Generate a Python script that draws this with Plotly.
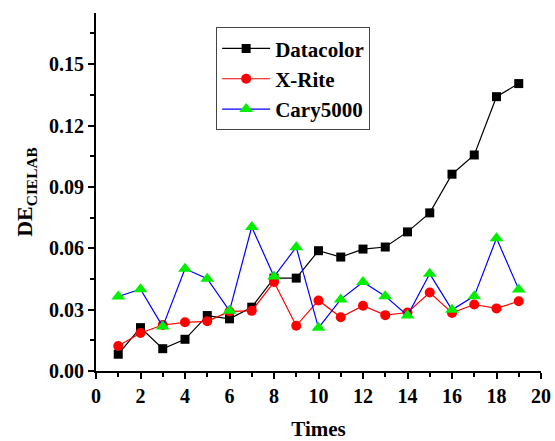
import plotly.graph_objects as go

times = list(range(1, 20))
datacolor = [0.0082, 0.0212, 0.0109, 0.0155, 0.0271, 0.0255, 0.0312, 0.0454, 0.0454, 0.0588,
             0.0557, 0.0596, 0.0606, 0.0680, 0.0773, 0.0962, 0.1056, 0.1341, 0.1405]
xrite = [0.0122, 0.0186, 0.0225, 0.0238, 0.0243, 0.0291, 0.0294, 0.0435, 0.0221, 0.0345,
         0.0263, 0.0319, 0.0273, 0.0286, 0.0384, 0.0284, 0.0325, 0.0306, 0.0341]
cary5000 = [0.0364, 0.0400, 0.0217, 0.0500, 0.0451, 0.0294, 0.0704, 0.0462, 0.0605, 0.0211,
            0.0350, 0.0435, 0.0366, 0.0271, 0.0475, 0.0299, 0.0366, 0.0649, 0.0399]

FONT = "Liberation Serif"

fig = go.Figure()
fig.add_trace(go.Scatter(x=times, y=datacolor, name="<b>Datacolor</b>", mode="lines+markers",
                         line=dict(color="black", width=1.2),
                         marker=dict(symbol="square", size=9, color="black")))
fig.add_trace(go.Scatter(x=times, y=xrite, name="<b>X-Rite</b>", mode="lines+markers",
                         line=dict(color="red", width=1.2),
                         marker=dict(symbol="circle", size=10, color="red")))
fig.add_trace(go.Scatter(x=times, y=cary5000, name="<b>Cary5000</b>", mode="lines+markers",
                         line=dict(color="blue", width=1.2),
                         marker=dict(symbol="triangle-up", size=12, color="#00ee00")))

axis_common = dict(showline=True, linecolor="black", linewidth=2, ticks="outside",
                   tickwidth=2, ticklen=6, tickcolor="black", showgrid=False, zeroline=False,
                   automargin=False, tickprefix="<b>", ticksuffix="</b>",
                   tickfont=dict(family=FONT, size=20, color="black"))

fig.update_xaxes(range=[0, 20], dtick=2, tick0=0,
                 minor=dict(ticks="outside", dtick=1, ticklen=4, tickwidth=2, tickcolor="black"),
                 title=dict(text="<b>Times</b>", font=dict(family=FONT, size=21, color="black"),
                            standoff=18),
                 **axis_common)
fig.update_yaxes(range=[0, 0.175], dtick=0.03, tick0=0, tickformat=".2f",
                 minor=dict(ticks="outside", dtick=0.015, ticklen=4, tickwidth=2, tickcolor="black"),
                 title=dict(text="<b>DE<sub>CIELAB</sub></b>", font=dict(family=FONT, size=22, color="black"),
                            standoff=10),
                 **axis_common)

fig.update_layout(
    width=555, height=441,
    margin=dict(l=96, r=14, t=13, b=70, autoexpand=False),
    paper_bgcolor="white", plot_bgcolor="white",
    font=dict(family=FONT, color="black"),
    legend=dict(x=0.27, y=0.96, xanchor="left", yanchor="top",
                bordercolor="#444", borderwidth=1, bgcolor="white",
                font=dict(family=FONT, size=21, color="black"),
                itemwidth=48, tracegroupgap=0),
    showlegend=True,
)

fig.write_html("out.html", config={"displayModeBar": False},
               post_script="document.body.style.margin='0';document.body.style.padding='0';")
